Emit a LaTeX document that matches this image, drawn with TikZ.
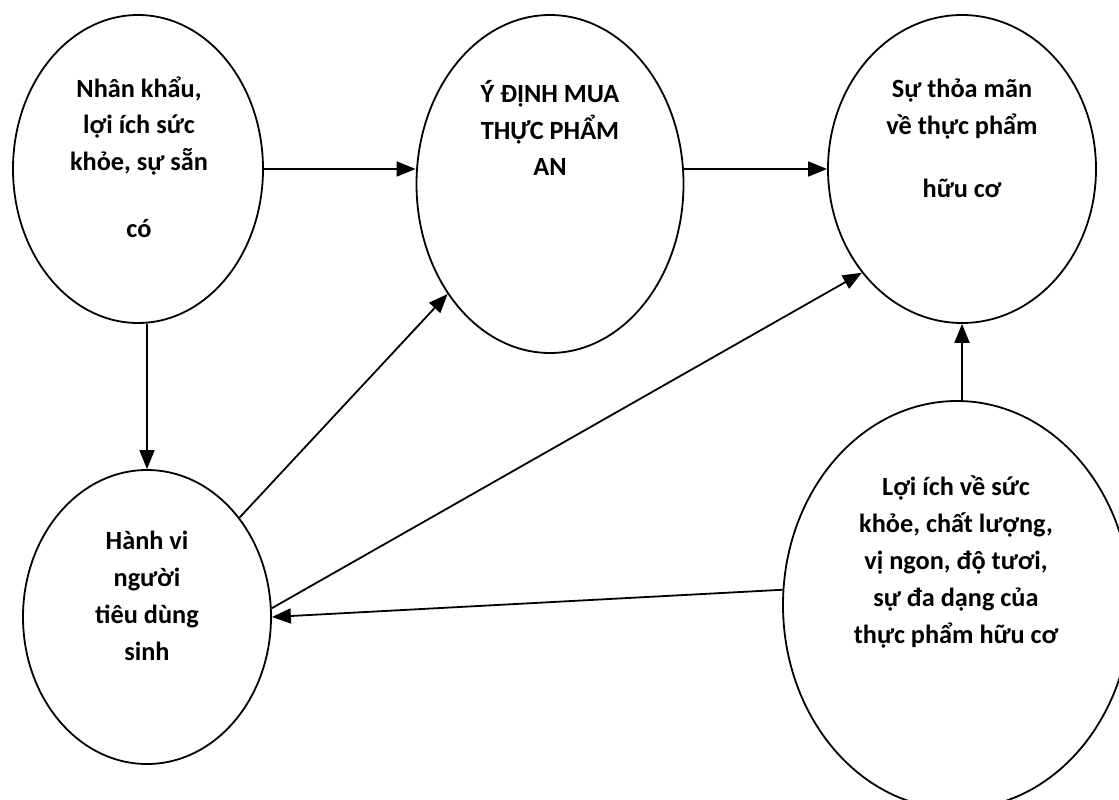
\documentclass[tikz,border=0pt]{standalone}
\usepackage{fontspec}
\setmainfont{Carlito}
\usetikzlibrary{shapes.geometric,arrows.meta}
\tikzset{
  bubble/.style={draw, ellipse, line width=1.8pt, inner sep=0pt},
  label txt/.style={align=center, inner sep=0pt, font={\bfseries\fontsize{26.3}{36.8}\selectfont}},
  arr/.style={line width=1.8pt, -{Triangle[length=19pt,width=15pt]}}
}
\begin{document}
\begin{tikzpicture}[x=1pt,y=-1pt]
\useasboundingbox (0,0) rectangle (1119,800);
\begin{scope}
\clip (0,0) rectangle (1119,800);
\node[bubble, minimum width=250pt, minimum height=308pt] (e1) at (138,169) {};
\node[bubble, minimum width=267pt, minimum height=338pt] (e2) at (550,184) {};
\node[bubble, minimum width=268pt, minimum height=308pt] (e3) at (962,169) {};
\node[bubble, minimum width=248pt, minimum height=294pt] (e4) at (147,617) {};
\node[bubble, minimum width=348pt, minimum height=408pt] (e5) at (957,605) {};

\node[label txt] (t1) at (139,157) {Nhân khẩu,\\lợi ích sức\\khỏe, sự sẵn\\[30pt]có};
\node[label txt] (t2) at (550,128) {Ý ĐỊNH MUA\\THỰC PHẨM\\AN};
\node[label txt] (t3) at (962,138) {Sự thỏa mãn\\về thực phẩm\\[26pt]hữu cơ};
\node[label txt] (t4) at (147,596) {Hành vi\\người\\tiêu dùng\\sinh};
\node[label txt] (t5) at (956,562) {Lợi ích về sức\\khỏe, chất lượng,\\vị ngon, độ tươi,\\sự đa dạng của\\thực phẩm hữu cơ};

\draw[arr] (e1.east) -- (e1.east -| e2.west);
\draw[arr] (e3.west -| e2.east) -- (e3.west);
\draw[arr] (e1.south -| e4.north) -- (e4.north);
\draw[arr] (e4) -- (e2);
\draw[arr] (e4.4.6) -- (e3.226);
\draw[arr] (e5.175) -- (e4.east);
\draw[arr] (e3.south |- e5.north) -- (e3.south);
\end{scope}
\end{tikzpicture}
\end{document}
